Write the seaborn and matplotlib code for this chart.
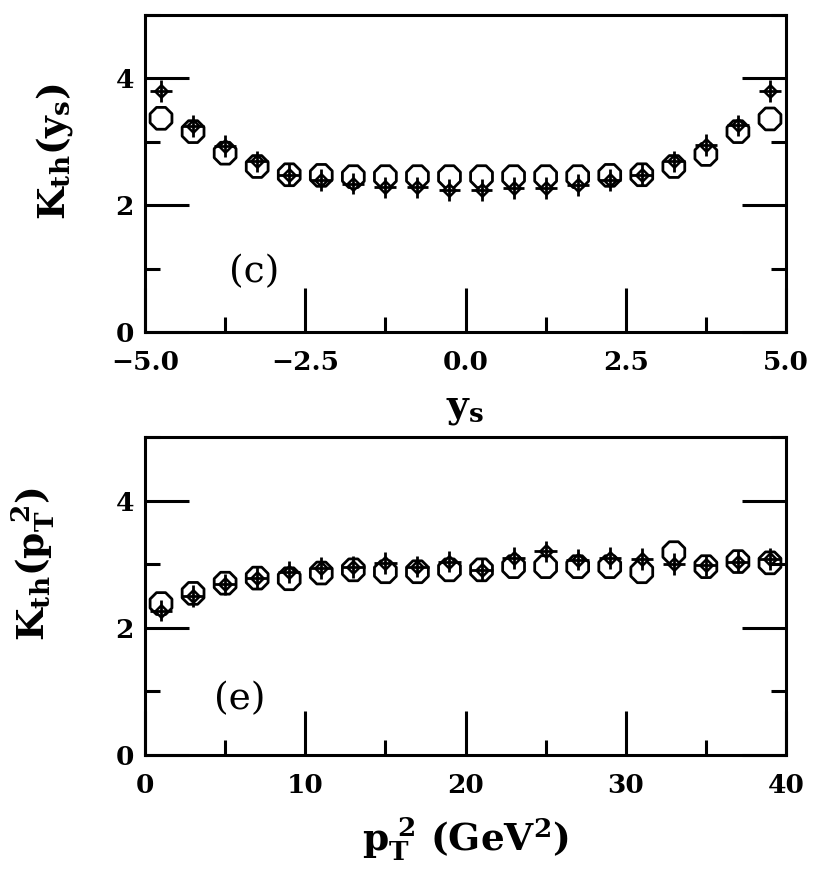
import matplotlib
matplotlib.use("Agg")
import matplotlib.pyplot as plt
import seaborn as sns
import pandas as pd
from matplotlib.ticker import MultipleLocator

# =========================
# DATA
# =========================
ys = [-4.75, -4.25, -3.75, -3.25, -2.75, -2.25, -1.75, -1.25, -0.75, -0.25,
      0.25, 0.75, 1.25, 1.75, 2.25, 2.75, 3.25, 3.75, 4.25, 4.75]
k_ys_oct = [3.37, 3.16, 2.82, 2.61, 2.48, 2.47, 2.45, 2.45, 2.45, 2.45,
            2.45, 2.45, 2.45, 2.45, 2.47, 2.48, 2.61, 2.80, 3.16, 3.36]
k_ys_dia = [3.80, 3.25, 2.93, 2.69, 2.48, 2.40, 2.34, 2.28, 2.28, 2.24,
            2.24, 2.27, 2.27, 2.32, 2.40, 2.48, 2.69, 2.95, 3.26, 3.80]

pt2 = [1, 3, 5, 7, 9, 11, 13, 15, 17, 19,
       21, 23, 25, 27, 29, 31, 33, 35, 37, 39]
k_pt_oct = [2.38, 2.54, 2.70, 2.78, 2.77, 2.86, 2.91, 2.88, 2.88, 2.91,
            2.91, 2.96, 2.96, 2.96, 2.96, 2.88, 3.18, 2.96, 3.04, 3.02]
k_pt_dia = [2.27, 2.50, 2.68, 2.78, 2.88, 2.94, 2.95, 3.02, 2.96, 3.04,
            2.91, 3.10, 3.20, 3.07, 3.10, 3.08, 3.00, 2.98, 3.04, 3.08]

# half-widths of the crosses on the diamond points
ys_xerr = [0.17]
ys_yerr = [0.17]
pt_xerr = [0.7]
pt_yerr = [0.17]

# =========================
# STYLE
# =========================
sns.set_style("white")
plt.rcParams["font.family"] = ["DejaVu Serif"]
plt.rcParams["mathtext.fontset"] = "custom"
plt.rcParams["mathtext.rm"] = "DejaVu Serif:bold"
plt.rcParams["mathtext.it"] = "DejaVu Serif:bold"
plt.rcParams["mathtext.bf"] = "DejaVu Serif:bold"
for key in ["text.color", "axes.labelcolor", "xtick.color", "ytick.color",
            "axes.edgecolor"]:
    plt.rcParams[key] = "black"

fig = plt.figure(figsize=(8.3, 8.86), dpi=100)
ax1 = fig.add_axes([0.1747, 0.6253, 0.7723, 0.3578])
ax2 = fig.add_axes([0.1747, 0.1479, 0.7723, 0.3590])


def draw_panel(ax, x, oct_vals, dia_vals, xerr, yerr):
    df = pd.DataFrame({"x": x, "oct": oct_vals, "dia": dia_vals})
    sns.scatterplot(data=df, x="x", y="oct", marker="8", s=290,
                    facecolor="none", edgecolor="black", linewidth=2.0, ax=ax)
    ax.errorbar(df["x"], df["dia"], xerr=xerr[0], yerr=yerr[0], fmt="none",
                ecolor="black", elinewidth=2.0, capsize=0)
    sns.scatterplot(data=df, x="x", y="dia", marker="D", s=40,
                    facecolor="white", edgecolor="black", linewidth=1.8, ax=ax)


def style_axes(ax, xlim, xmajor, xminor):
    ax.set_xlim(*xlim)
    ax.set_ylim(0, 5)
    ax.xaxis.set_major_locator(MultipleLocator(xmajor))
    ax.xaxis.set_minor_locator(MultipleLocator(xminor))
    ax.yaxis.set_major_locator(MultipleLocator(2))
    ax.yaxis.set_minor_locator(MultipleLocator(1))
    ax.tick_params(which="both", direction="in", left=True, right=True,
                   bottom=True, top=False, width=2.2, color="black")
    ax.tick_params(which="major", length=32)
    ax.tick_params(which="minor", length=11)
    ax.tick_params(axis="x", which="major", pad=13)
    ax.tick_params(axis="y", which="major", pad=8)
    for lab in ax.get_xticklabels() + ax.get_yticklabels():
        lab.set_fontsize(19)
        lab.set_fontweight("bold")
    for sp in ax.spines.values():
        sp.set_visible(True)
        sp.set_linewidth(2.2)
        sp.set_color("black")


# =========================
# PLOTS
# =========================
draw_panel(ax1, ys, k_ys_oct, k_ys_dia, ys_xerr, ys_yerr)
style_axes(ax1, (-5, 5), 2.5, 1.25)
ax1.set_xticks([-5, -2.5, 0, 2.5, 5])
ax1.set_xticklabels(["\u22125.0", "\u22122.5", "0.0", "2.5", "5.0"],
                    fontsize=19, fontweight="bold")
ax1.set_xlabel(r"$\mathrm{y_s}$", fontsize=27)
ax1.set_ylabel(r"$\mathrm{K_{th}(y_s)}$", fontsize=27)
ax1.xaxis.set_label_coords(0.5, -0.185)
ax1.yaxis.set_label_coords(-0.109, 0.57)
ax1.text(-3.3, 0.95, "(c)", fontsize=27, ha="center", va="center")

draw_panel(ax2, pt2, k_pt_oct, k_pt_dia, pt_xerr, pt_yerr)
style_axes(ax2, (0, 40), 10, 5)
ax2.set_xlabel(r"$\mathrm{p_T^{\ 2}\ (GeV^2)}$", fontsize=27)
ax2.set_ylabel(r"$\mathrm{K_{th}(p_T^{\ 2})}$", fontsize=27)
ax2.xaxis.set_label_coords(0.5, -0.19)
ax2.yaxis.set_label_coords(-0.137, 0.6)
ax2.text(5.9, 0.88, "(e)", fontsize=27, ha="center", va="center")

plt.savefig("out.png", dpi=100)
plt.close()
